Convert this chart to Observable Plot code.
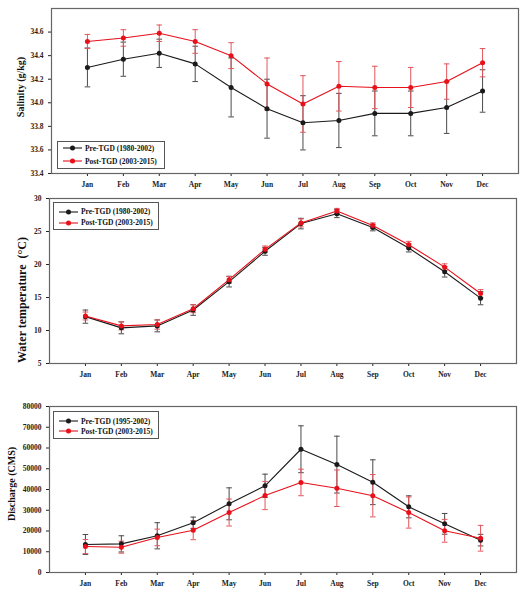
<!DOCTYPE html>
<html>
<head>
<meta charset="utf-8">
<script src="https://cdn.jsdelivr.net/npm/d3@7"></script>
<script src="https://cdn.jsdelivr.net/npm/@observablehq/plot@0.6"></script>
<style>
  body { margin: 0; background: #fff; }
  #wrap { position: relative; width: 532px; height: 600px; font-family: "Liberation Serif", serif; }
  .panel { position: absolute; left: 0; }
  .panel svg { display: block; }
  .legend { position: absolute; border: 1px solid #555; background: #fff; box-sizing: border-box;
            font: bold 7.5px "Liberation Serif", serif; color: #111; }
  .legend .row { position: absolute; left: 0; display: flex; align-items: center; white-space: nowrap; }
</style>
</head>
<body>
<div id="wrap"></div>
<script>
const months = ["Jan","Feb","Mar","Apr","May","Jun","Jul","Aug","Sep","Oct","Nov","Dec"];

// Salinity (g/kg)
const salPre      = [34.30, 34.37, 34.42, 34.33, 34.13, 33.95, 33.83, 33.85, 33.91, 33.91, 33.96, 34.10];
const salPreErr   = [0.165, 0.145, 0.12, 0.15, 0.25, 0.25, 0.23, 0.23, 0.19, 0.19, 0.22, 0.18];
const salPost     = [34.52, 34.55, 34.59, 34.52, 34.40, 34.16, 33.99, 34.14, 34.13, 34.13, 34.18, 34.34];
const salPostErr  = [0.06, 0.07, 0.07, 0.10, 0.11, 0.22, 0.24, 0.21, 0.18, 0.17, 0.15, 0.12];
const salTicks    = [33.4, 33.6, 33.8, 34.0, 34.2, 34.4, 34.6];

// Water temperature (°C)
const tmpPre      = [12.1, 10.4, 10.7, 13.1, 17.4, 22.0, 26.2, 27.7, 25.6, 22.5, 18.9, 14.9];
const tmpPreErr   = [1.0, 0.9, 0.9, 0.8, 0.8, 0.6, 0.8, 0.6, 0.5, 0.6, 0.8, 1.0];
const tmpPost     = [12.2, 10.7, 10.9, 13.3, 17.7, 22.3, 26.3, 28.1, 25.9, 23.0, 19.6, 15.6];
const tmpPostErr  = [0.6, 0.6, 0.7, 0.6, 0.5, 0.5, 0.6, 0.4, 0.4, 0.5, 0.5, 0.6];
const tmpTicks    = [5, 10, 15, 20, 25, 30];

// Discharge (CMS)
const disPre      = [13500, 13800, 17700, 24000, 33100, 41800, 59400, 52000, 43500, 31650, 23450, 15600];
const disPreErr   = [4800, 3900, 6300, 2700, 7700, 5600, 11300, 13700, 10800, 5300, 5000, 2800];
const disPost     = [12500, 12200, 16900, 20400, 28900, 37100, 43400, 40600, 37000, 28900, 20100, 16500];
const disPostErr  = [3400, 2900, 4000, 4600, 6500, 6800, 6400, 8800, 10200, 7500, 5500, 6200];
const disTicks    = [0, 10000, 20000, 30000, 40000, 50000, 60000, 70000, 80000];

const PRE = "#1a1a1a", PRE_ERR = "#4a4a4a", POST = "#e8101a", POST_ERR = "#e2575c";

const capSymbol = { draw(ctx, size) { const w = Math.sqrt(size / Math.PI); ctx.moveTo(-w, 0); ctx.lineTo(w, 0); } };

function rows(pre, preErr, post, postErr) {
  return months.map((m, i) => ({ m: i + 1, pre: pre[i], preLo: pre[i] - preErr[i], preHi: pre[i] + preErr[i],
    post: post[i], postLo: post[i] - postErr[i], postHi: post[i] + postErr[i] }));
}

function panel(cfg) {
  const data = rows(cfg.pre, cfg.preErr, cfg.post, cfg.postErr);
  const errMarks = (key, color) => [
    Plot.ruleX(data, { x: "m", y1: key + "Lo", y2: key + "Hi", stroke: color, strokeWidth: 1 }),
    Plot.dot(data, { x: "m", y: key + "Lo", symbol: capSymbol, r: 2.8, stroke: color, fill: "none", strokeWidth: 1 }),
    Plot.dot(data, { x: "m", y: key + "Hi", symbol: capSymbol, r: 2.8, stroke: color, fill: "none", strokeWidth: 1 })
  ];
  const svg = Plot.plot({
    width: 532, height: cfg.height,
    marginTop: cfg.mt, marginBottom: cfg.mb, marginLeft: cfg.ml, marginRight: cfg.mr,
    style: { fontFamily: "Liberation Serif, serif", fontSize: "7.5px", fontWeight: "bold", color: "#222", background: "white" },
    x: { domain: [0, 13], ticks: d3.range(1, 13), tickFormat: d => months[d - 1], tickSize: 3, tickPadding: 5, label: null },
    y: { domain: cfg.domain, ticks: cfg.ticks, tickFormat: cfg.fmt, tickSize: 3, tickPadding: 5, label: null },
    marks: [
      ...errMarks("pre", PRE_ERR),
      ...errMarks("post", POST_ERR),
      Plot.line(data, { x: "m", y: "pre", stroke: PRE, strokeWidth: 1.1 }),
      Plot.line(data, { x: "m", y: "post", stroke: POST, strokeWidth: 1.1 }),
      Plot.dot(data, { x: "m", y: "pre", r: 2.5, fill: PRE }),
      Plot.dot(data, { x: "m", y: "post", r: 2.5, fill: POST }),
      Plot.frame({ stroke: "#666", strokeWidth: 1.2 })
    ]
  });
  d3.select(svg).append("text")
    .attr("transform", `translate(${cfg.labelX},${cfg.labelY}) rotate(-90)`)
    .attr("text-anchor", "middle").attr("dominant-baseline", "middle")
    .style("font-size", cfg.labelSize).style("font-weight", "bold")
    .attr("fill", "#111").text(cfg.label);
  const div = document.createElement("div");
  div.className = "panel";
  div.style.top = cfg.top + "px";
  div.appendChild(svg);
  document.getElementById("wrap").appendChild(div);
}

function legend(cfg) {
  const box = document.createElement("div");
  box.className = "legend";
  Object.assign(box.style, { left: cfg.x + "px", top: cfg.y + "px", width: cfg.w + "px", height: cfg.h + "px" });
  cfg.items.forEach((it, i) => {
    const row = document.createElement("div");
    row.className = "row";
    row.style.top = (cfg.rowY[i] - cfg.y - 6) + "px";
    row.style.height = "12px";
    row.innerHTML = `<svg width="${cfg.sw}" height="12" style="margin-left:${cfg.pad}px;margin-right:3px">
      <line x1="0" x2="${cfg.sw}" y1="6" y2="6" stroke="${it.color}" stroke-width="1.1"/>
      <circle cx="${cfg.sw / 2}" cy="6" r="2.5" fill="${it.color}"/></svg><span>${it.text}</span>`;
    box.appendChild(row);
  });
  document.getElementById("wrap").appendChild(box);
}

panel({ top: 0, height: 190, mt: 8, mb: 17, ml: 51, mr: 14,
  pre: salPre, preErr: salPreErr, post: salPost, postErr: salPostErr,
  domain: [33.4, 34.8], ticks: salTicks, fmt: d3.format(".1f"),
  label: "Salinity (g/kg)", labelX: 22, labelY: 87, labelSize: "10px" });

panel({ top: 190, height: 200, mt: 8, mb: 27, ml: 49, mr: 16,
  pre: tmpPre, preErr: tmpPreErr, post: tmpPost, postErr: tmpPostErr,
  domain: [5, 30], ticks: tmpTicks, fmt: d3.format("d"),
  label: "Water temperature  (°C)", labelX: 23, labelY: 110, labelSize: "12px" });

panel({ top: 390, height: 210, mt: 16, mb: 28, ml: 49, mr: 16,
  pre: disPre, preErr: disPreErr, post: disPost, postErr: disPostErr,
  domain: [0, 80000], ticks: disTicks, fmt: d3.format("d"),
  label: "Discharge (CMS)", labelX: 13, labelY: 94, labelSize: "10px" });

legend({ x: 57, y: 141, w: 108, h: 28, rowY: [147, 160], sw: 19, pad: 5,
  items: [{ color: PRE, text: "Pre-TGD (1980-2002)" }, { color: POST, text: "Post-TGD (2003-2015)" }] });
legend({ x: 53, y: 202, w: 106, h: 28, rowY: [210.5, 221.5], sw: 19, pad: 5,
  items: [{ color: PRE, text: "Pre-TGD (1980-2002)" }, { color: POST, text: "Post-TGD (2003-2015)" }] });
legend({ x: 53, y: 411, w: 106, h: 28, rowY: [420, 430], sw: 19, pad: 5,
  items: [{ color: PRE, text: "Pre-TGD (1995-2002)" }, { color: POST, text: "Post-TGD (2003-2015)" }] });
</script>
</body>
</html>
